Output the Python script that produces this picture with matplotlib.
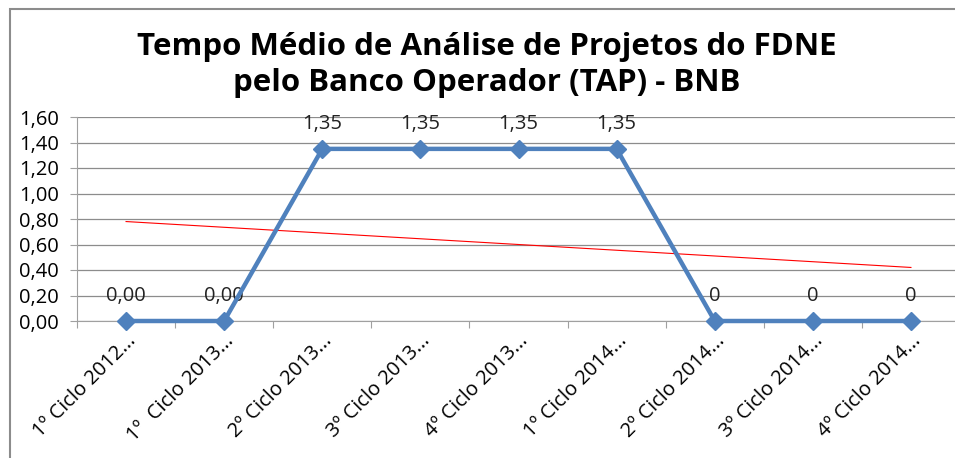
import numpy as np
import matplotlib.pyplot as plt
import matplotlib.transforms as mtransforms
from matplotlib.patches import Rectangle

# chart data
categories = ['1º Ciclo 2012...', '1º  Ciclo 2013...', '2º Ciclo 2013...', '3º Ciclo 2013...',
              '4º Ciclo 2013...', '1º Ciclo 2014...', '2º Ciclo 2014...', '3º Ciclo 2014...',
              '4º Ciclo 2014...']
values = [0.0, 0.0, 1.35, 1.35, 1.35, 1.35, 0.0, 0.0, 0.0]
point_labels = ['0,00', '0,00', '1,35', '1,35', '1,35', '1,35', '0', '0', '0']
yticks = [0.0, 0.2, 0.4, 0.6, 0.8, 1.0, 1.2, 1.4, 1.6]

plt.rcParams['font.family'] = ['Open Sans', 'DejaVu Sans']

W, H = 955, 458
fig = plt.figure(figsize=(W / 100, H / 100), dpi=100)

# outer chart frame (left and top edges visible)
fig.add_artist(Rectangle((10 / W, -0.1), 1.2, (H - 9) / H + 0.1, transform=fig.transFigure,
                         facecolor='none', edgecolor='#8c8c8c', linewidth=1.5))

left, right, top, bottom = 77, 960, 117, 321
ax = fig.add_axes([left / W, 1 - bottom / H, (right - left) / W, (bottom - top) / H])

x = np.arange(len(values))
ax.plot(x, values, color='#4F81BD', linewidth=3.2, marker='D', markersize=9,
        markerfacecolor='#4F81BD', markeredgecolor='#4F81BD', zorder=4, clip_on=False)

# linear trend line
coef = np.polyfit(x, values, 1)
ax.plot(x, np.polyval(coef, x), color='#FF0000', linewidth=0.8, zorder=3)

for xi, v, lab in zip(x, values, point_labels):
    ax.annotate(lab, (xi, v), xytext=(0, 11), textcoords='offset points',
                ha='center', va='bottom', fontsize=14.5, color='#222222')

ax.set_xlim(-0.5, len(values) - 0.5)
ax.set_ylim(0, 1.6)
ax.set_yticks(yticks)
ax.set_yticklabels([f'{t:.2f}'.replace('.', ',') for t in yticks], fontsize=14.5)
ax.set_xticks(np.arange(-0.5, len(values), 1.0))
ax.set_xticklabels([])
ax.set_xticks(x, minor=True)
ax.set_xticklabels(categories, minor=True, rotation=45, ha='right', va='top',
                   rotation_mode='anchor', fontsize=14.5)
shift = mtransforms.ScaledTranslation(12 / 100, 0, fig.dpi_scale_trans)
for t in ax.get_xticklabels(minor=True):
    t.set_transform(t.get_transform() + shift)
ax.tick_params(axis='x', which='minor', length=0, pad=7)
ax.tick_params(axis='x', which='major', length=5, color='#a0a0a0')
ax.tick_params(axis='y', length=5, color='#a0a0a0', pad=8)

ax.grid(axis='y', color='#8c8c8c', linewidth=0.9)
ax.set_axisbelow(True)
for s in ['top', 'right']:
    ax.spines[s].set_visible(False)
ax.spines['left'].set_color('#a0a0a0')
ax.spines['bottom'].set_color('#a0a0a0')

fig.text(487 / W, 1 - 65 / H,
         'Tempo Médio de Análise de Projetos do FDNE\npelo Banco Operador (TAP) - BNB',
         ha='center', va='center', fontsize=22.5, fontweight='bold', linespacing=1.28)

fig.savefig('out.png', dpi=100)
